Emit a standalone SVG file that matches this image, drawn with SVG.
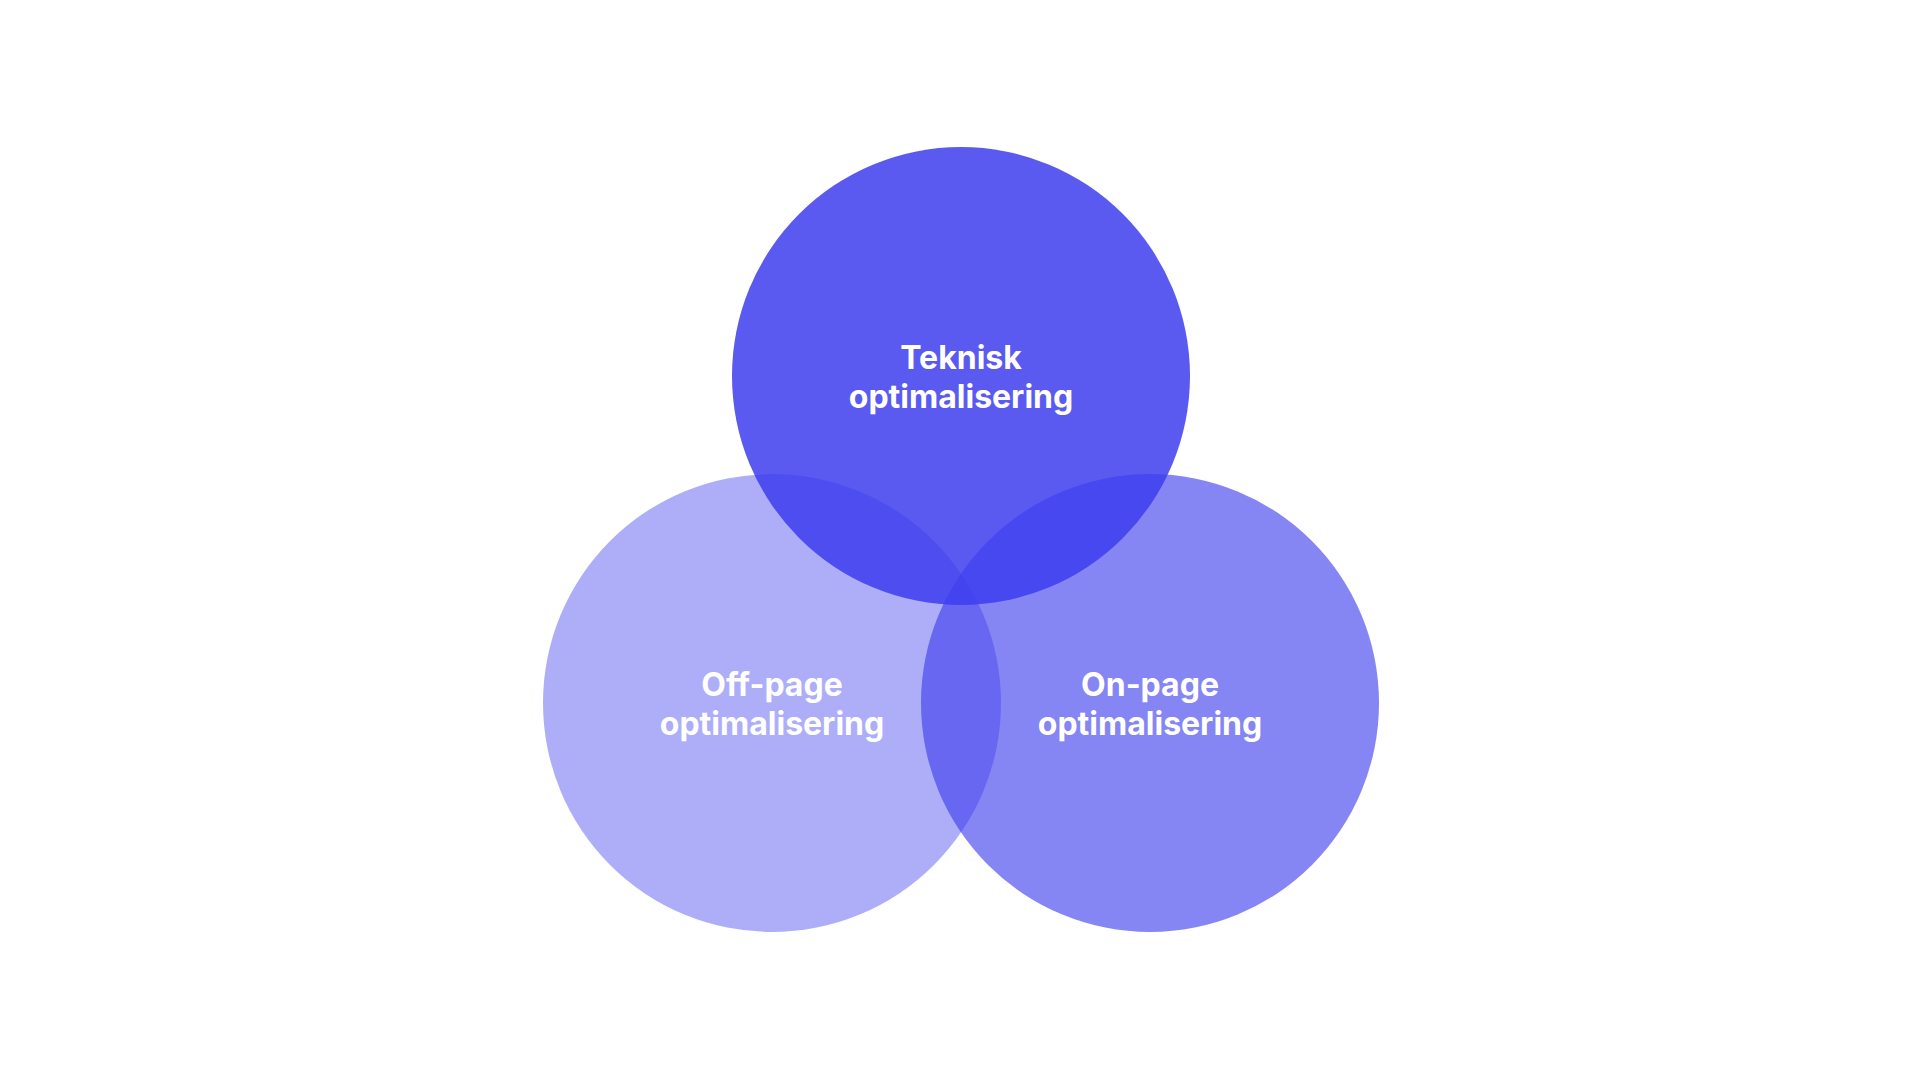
<svg xmlns="http://www.w3.org/2000/svg" width="1921" height="1081" viewBox="0 0 1921 1081">
<style>
.lbl{font-family:Inter,"Noto Sans","Liberation Sans",sans-serif;font-weight:700;font-size:32px;fill:#ffffff;text-anchor:middle}
.c{fill:#3D3DEE}
</style>
<rect width="1921" height="1081" fill="#ffffff"/>
<g id="connectors"></g>
<g id="offpage">
<circle class="c" cx="772" cy="703" r="229" fill-opacity="0.42"/>
</g>
<g id="onpage">
<circle class="c" cx="1150" cy="703" r="229" fill-opacity="0.63"/>
</g>
<g id="teknisk">
<circle class="c" cx="961" cy="376" r="229" fill-opacity="0.85"/>
</g>
<g id="labels">
<text class="lbl" x="961" y="369">Teknisk</text>
<text class="lbl" x="961" y="408">optimalisering</text>
<text class="lbl" x="772" y="696">Off-page</text>
<text class="lbl" x="772" y="735">optimalisering</text>
<text class="lbl" x="1150" y="696">On-page</text>
<text class="lbl" x="1150" y="735">optimalisering</text>
</g>
</svg>
